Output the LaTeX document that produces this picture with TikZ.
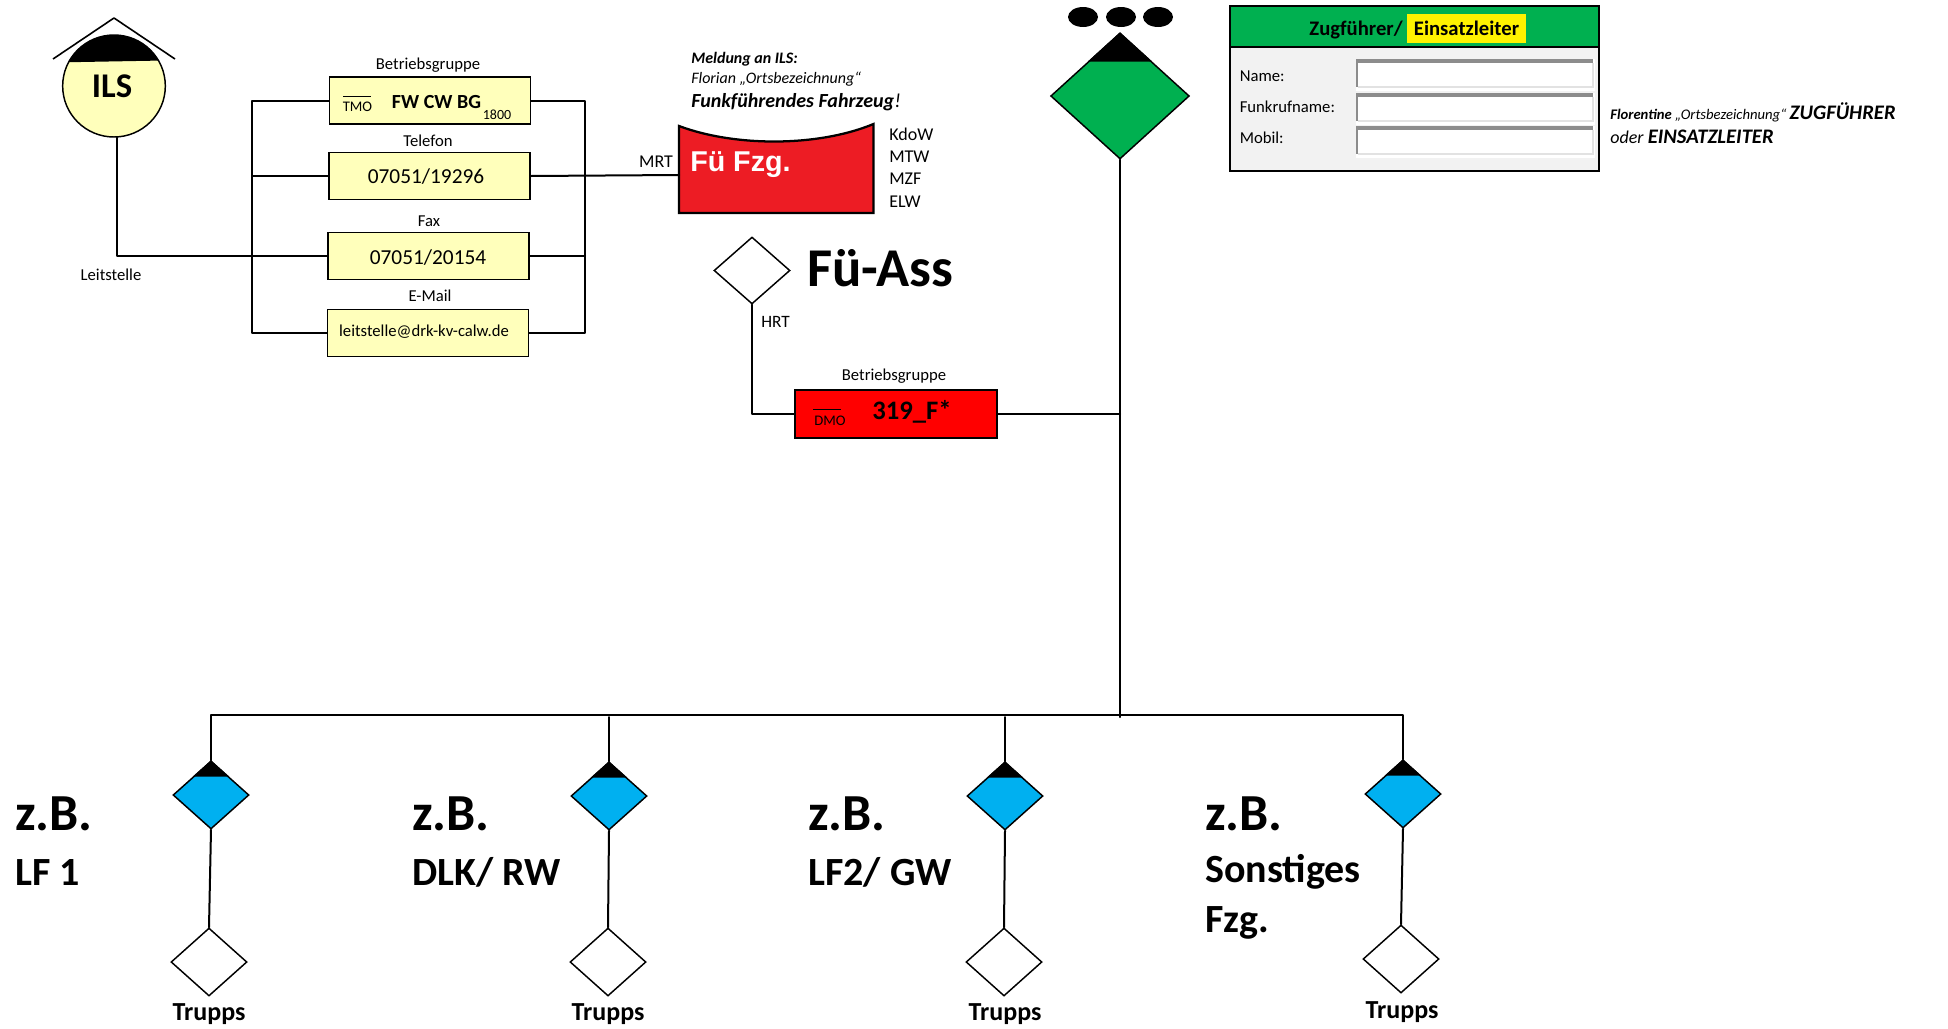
\documentclass[tikz,border=0pt]{standalone}
\usepackage{fontspec}
\setmainfont{Carlito}
\newfontfamily\arialfont{Liberation Sans}
\usepackage{xcolor}
\usetikzlibrary{calc,shapes.geometric,shapes.misc}
\definecolor{ilsgelb}{HTML}{FFFFBB}
\definecolor{fzgrot}{HTML}{ED1C24}
\definecolor{hexrot}{HTML}{FF0000}
\definecolor{zfgruen}{HTML}{00B050}
\definecolor{gfblau}{HTML}{00B0F0}
\definecolor{formgrau}{HTML}{F2F2F2}
\definecolor{randgrau}{HTML}{8C8C8C}
\definecolor{randhell}{HTML}{E2E2E2}
\newcommand{\fsz}[1]{\fontsize{#1}{#1}\selectfont}
\tikzset{
  wire/.style={draw=black, line width=1.5pt, line cap=round, line join=round},
  thin wire/.style={draw=black, line width=1.2pt, line join=round},
  hexbox/.style={
    chamfered rectangle,
    chamfered rectangle xsep=12pt,
    chamfered rectangle ysep=17.6pt,
    draw=black, line width=1.1pt,
    fill=ilsgelb,
    minimum width=151pt, minimum height=35.2pt,
    inner sep=0pt
  },
  truppbox/.style={diamond, draw=black, line width=1.1pt, fill=white, inner sep=0pt, minimum width=57pt, minimum height=51pt},
  gfbox/.style={truppbox, fill=gfblau},
  txt/.style={inner sep=0pt, font=\fsz{12.5}},
  wert/.style={inner sep=0pt, font=\fsz{16}},
  trupptxt/.style={inner sep=0pt, font=\fsz{19.5}\bfseries},
  zbtxt/.style={inner sep=0pt, anchor=west, font=\fsz{39}\bfseries},
  fzgtxt/.style={inner sep=0pt, anchor=west, font=\fsz{30}\bfseries}
}
\begin{document}
\begin{tikzpicture}[x=0.75pt, y=-0.75pt]
  \useasboundingbox (0,0) rectangle (1948,1028);

  % Leitstelle
  \draw[thin wire] (53,59) -- (114,18) -- (175,59);
  \node[ellipse, draw=black, line width=1.1pt, fill=ilsgelb, inner sep=0pt, minimum width=77pt, minimum height=76.5pt] (ils) at (114,86) {};
  \begin{scope}
    \clip (114,86) ellipse (38.6pt and 38.2pt);
    \fill (53,30) -- (175,30) -- (175,60.3) -- (53,62.5) -- cycle;
  \end{scope}
  \node[inner sep=0pt, font=\fsz{26}\bfseries] (ilstxt) at (112,86) {ILS};
  \node[txt] (leit) at (111,275) {Leitstelle};

  % hexagons of the Leitstelle
  \node[hexbox] (hexbg) at (430,100.5) {};
  \node[hexbox] (hextel) at (429.5,176) {};
  \node[hexbox] (hexfax) at (428.5,256) {};
  \node[hexbox] (hexmail) at (428,333) {};
  \node[txt] (lblbg) at (428,65) {Betriebsgruppe};
  \node[txt] (lbltel) at (428,141) {Telefon};
  \node[txt] (lblfax) at (429,221) {Fax};
  \node[txt] (lblmail) at (430,296) {E-Mail};
  \node[inner sep=0pt, font=\fsz{11}] (tmo) at (357.5,107) {TMO};
  \draw[line width=0.5pt] (343,96) -- (371,96);
  \node[inner sep=0pt, font=\fsz{15}\bfseries] (fwcw) at (436.5,102) {FW CW BG};
  \node[inner sep=0pt, font=\fsz{10.5}] (tg) at (497,115) {1800};
  \node[wert] (teltxt) at (426,177) {07051/19296};
  \node[wert] (faxtxt) at (428,258) {07051/20154};
  \node[txt] (mailtxt) at (424,332) {leitstelle@drk-kv-calw.de};

  \coordinate (busla) at (252,100.5);
  \coordinate (buslb) at (252,333);
  \coordinate (busra) at (585,100.5);
  \coordinate (busrb) at (585,333);
  \draw[wire] (hexbg.west) -- (busla) -- (buslb) -- (hexmail.west);
  \draw[wire] (hexbg.east) -- (busra) -- (busrb) -- (hexmail.east);
  \draw[wire] (hextel.west) -- (hextel.west -| busla);
  \draw[wire] (hexfax.east) -- (hexfax.east -| busra);
  \draw[wire] ([xshift=2pt]ils.south) |- (hexfax.west);

  % Fuehrungsfahrzeug
  \coordinate (fzgin) at (679,175);
  \draw[line width=1.7pt, fill=fzgrot, line join=miter] (679,126) .. controls (735,147) and (818,147) .. (873.5,124) -- (873.5,213) -- (679,213) -- cycle;
  \draw[wire] (hextel.east) -- (fzgin);
  \node[inner sep=0pt, anchor=west, text=white, font=\arialfont\fsz{21.5}\bfseries] (fzgtxt) at (690,165) {Fü Fzg.};
  \node[txt, font=\fsz{13.5}] (mrt) at (656,162) {MRT};
  \foreach \n/\t/\y in {a/KdoW/134,b/MTW/157,c/MZF/179,d/ELW/202}{
    \node[txt, anchor=west, font=\fsz{13.5}] (art\n) at (889,\y) {\t};
  }
  \node[inner sep=0pt, anchor=west, font=\fsz{12}\bfseries\itshape] (meld) at (691,59) {Meldung an ILS:};
  \node[inner sep=0pt, anchor=west, font=\fsz{12}\itshape] (flor) at (691,79) {Florian „Ortsbezeichnung“};
  \node[inner sep=0pt, anchor=west, font=\fsz{15}\bfseries\itshape] (funk) at (691,102) {Funkführendes Fahrzeug\textmd{!}};

  % Fuehrungsassistent
  \node[truppbox, minimum height=50.2pt] (fuass) at (752,270.5) {};
  \node[inner sep=0pt, anchor=west, font=\fsz{41}\bfseries] (fuasstxt) at (807,268) {Fü-Ass};
  \node[txt, anchor=west, font=\fsz{13}] (hrt) at (761,322) {HRT};
  \node[hexbox, fill=hexrot, minimum width=151.5pt, minimum height=36pt, chamfered rectangle ysep=18pt] (hexdmo) at (896,414) {};
  \node[txt] (lbldmo) at (894,376) {Betriebsgruppe};
  \node[inner sep=0pt, font=\fsz{11}] (dmo) at (830,421) {DMO};
  \draw[line width=0.5pt] (813,409) -- (841,409);
  \node[inner sep=0pt, font=\fsz{20}\bfseries] (tgdmo) at (912,412) {319\_F*};
  \draw[wire] (fuass.south) |- (hexdmo.west);

  % Zugfuehrer
  \foreach \n/\x in {a/1083,b/1121,c/1158}{
    \node[ellipse, fill=black, inner sep=0pt, minimum width=22.5pt, minimum height=15pt] (punkt\n) at (\x,17) {};
  }
  \node[diamond, draw=black, line width=1.1pt, fill=zfgruen, inner sep=0pt, minimum width=104pt, minimum height=94.5pt] (zf) at (1120,96) {};
  \coordinate (stammend) at (1120,717);
  \coordinate (stamm) at (1120,715);
  \draw[wire] (zf.south) -- (stammend);
  \draw[wire] (hexdmo.east) -- (hexdmo.east -| zf.south);

  % form
  \draw[line width=1.7pt, fill=formgrau] (1230,6) rectangle (1599,171);
  \draw[line width=1.7pt, fill=zfgruen] (1230,6) rectangle (1599,47);
  \node[inner sep=0pt, fill=yellow, minimum width=89pt, minimum height=22pt, font=\fsz{15.5}\bfseries] (einsatz) at (1466.5,28.5) {Einsatzleiter};
  \node[inner sep=0pt, anchor=base east, font=\fsz{15.5}\bfseries] (zugf) at ([xshift=-3pt]einsatz.base west) {Zugführer/};
  \foreach \n/\t/\y/\ty in {a/Name:/59/76,b/Funkrufname:/93/107,c/Mobil:/126/138}{
    \fill[white] (1356,\y) rectangle (1595,\y+32);
    \fill[randgrau] (1356,\y) rectangle (1593,\y+4);
    \fill[randgrau] (1356,\y) rectangle (1358,\y+28);
    \draw[randhell, line width=1pt] (1358,\y+28) -- (1593,\y+28) -- (1593,\y+4);
    \node[txt, anchor=west] (feld\n) at (1239.5,\ty) {\t};
  }
  \node[inner sep=0pt, anchor=west, font=\fsz{11}] (funkruf) at (1610,112) {\textbf{\textit{Florentine}} \textit{„Ortsbezeichnung“} \fsz{15.5}\textbf{\textit{ZUGFÜHRER}}};
  \node[inner sep=0pt, anchor=west, font=\fsz{13.5}] (funkoder) at (1610,137) {\textit{oder} \fsz{15.5}\textbf{\textit{EINSATZLEITER}}};

  % Gruppen: name/x,y diamond/x,y trupp
  \foreach \n/\xa/\ya/\xb/\yb in {a/211/795/209/962,b/609/796/608/962,c/1005/796/1004/962,d/1403/794/1401/959}{
    \node[gfbox] (gf\n) at (\xa,\ya) {};
    \node[truppbox] (tr\n) at (\xb,\yb) {};
    \node[trupptxt, below=0pt] (trtxt\n) at (\xb,\yb+52) {};
    \fill ($(gf\n.north)!0.47!(gf\n.west)$) -- (gf\n.north) -- ($(gf\n.north)!0.47!(gf\n.east)$) -- cycle;
    \draw[wire] (gf\n.south) -- (tr\n.north);
  }
  \fill ($(zf.north)!0.46!(zf.west)$) -- (zf.north) -- ($(zf.north)!0.46!(zf.east)$) -- cycle;
  \node[trupptxt] (ta) at (209,1014) {Trupps};
  \node[trupptxt] (tb) at (608,1014) {Trupps};
  \node[trupptxt] (tc) at (1005,1014) {Trupps};
  \node[trupptxt] (td) at (1402,1012) {Trupps};
  \draw[wire] (gfa.north) -- (gfa.north |- stamm) -- (gfd.north |- stamm) -- (gfd.north);
  \draw[wire] (gfb.north) -- (gfb.north |- stammend);
  \draw[wire] (gfc.north) -- (gfc.north |- stammend);

  % labels next to the groups
  \foreach \n/\x in {a/15,b/412,c/808,d/1205}{
    \node[zbtxt] (zb\n) at (\x,814) {z.B.};
  }
  \node[fzgtxt] (fzga) at (15,872) {LF 1};
  \node[fzgtxt] (fzgb) at (412,872) {DLK/ RW};
  \node[fzgtxt] (fzgc) at (808,872) {LF2/ GW};
  \node[fzgtxt] (fzgd) at (1205,872) {Sonstiges};
  \node[fzgtxt] (fzge) at (1205,923) {Fzg.};
\end{tikzpicture}
\end{document}
